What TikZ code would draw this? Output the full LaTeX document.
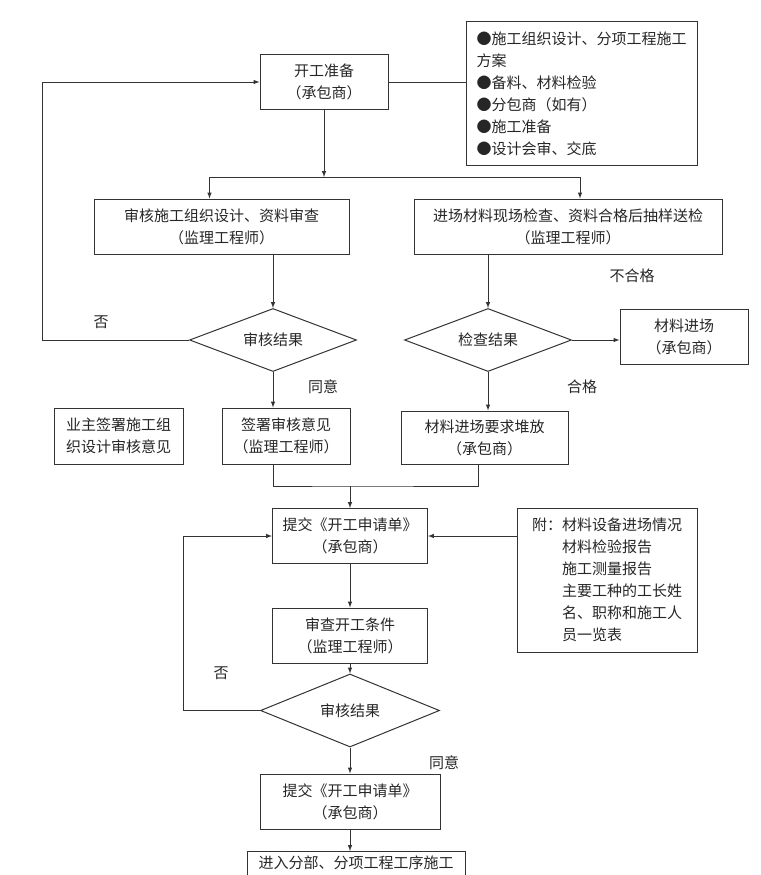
\documentclass[tikz,border=0pt]{standalone}
\usepackage{fontspec}
\setmainfont{Noto Sans CJK SC}
\usetikzlibrary{positioning,arrows,shapes.geometric,calc}

\begin{document}
\begin{tikzpicture}[x=1pt,y=-1pt,
   every node/.style={font=\fontsize{15pt}{22pt}\selectfont, text=black!85},
   box/.style={draw=black!80, line width=1pt, align=center, inner sep=0pt},
   check/.style={draw=black!80, line width=1pt, diamond, aspect=2.6, inner sep=0pt},
   line/.style={draw=black!80, line width=1pt}]
   \clip (0,0) rectangle (760,875);
   \node[box, minimum width=128, minimum height=54] (start) at (324,82) {开工准备\\（承包商）};
   \node[box, align=left, minimum width=231, minimum height=143] (prep) at (581.5,93.5)
      {●施工组织设计、分项工程施工\\方案\\●备料、材料检验\\●分包商（如有）\\●施工准备\\●设计会审、交底};
   \node[box, minimum width=255, minimum height=55] (review) at (221.5,226.5) {审核施工组织设计、资料审查\\（监理工程师）};
   \node[box, minimum width=308, minimum height=55] (check1) at (568,226.5) {进场材料现场检查、资料合格后抽样送检\\（监理工程师）};
   \node[check, minimum width=167, minimum height=63] (dec1) at (273,340) {审核结果};
   \node[check, minimum width=167, minimum height=63] (dec2) at (488,340) {检查结果};
   \node[box, minimum width=128, minimum height=55] (in1) at (684,336.5) {材料进场\\（承包商）};
   \node[box, minimum width=129, minimum height=56] (owner) at (118.5,436) {业主签署施工组\\织设计审核意见};
   \node[box, minimum width=128, minimum height=56] (sign) at (286,436) {签署审核意见\\（监理工程师）};
   \node[box, minimum width=167, minimum height=53] (stack) at (484.5,437.5) {材料进场要求堆放\\（承包商）};
   \node[box, minimum width=155, minimum height=55] (apply1) at (350,536) {提交《开工申请单》\\（承包商）};
   \node[box, align=left, minimum width=180, minimum height=144] (attach) at (607,580)
      {附：材料设备进场情况\\\hphantom{附：}材料检验报告\\\hphantom{附：}施工测量报告\\\hphantom{附：}主要工种的工长姓\\\hphantom{附：}名、职称和施工人\\\hphantom{附：}员一览表};
   \node[box, minimum width=155, minimum height=55] (cond) at (350,635.5) {审查开工条件\\（监理工程师）};
   \node[check, minimum width=179, minimum height=73] (dec3) at (350,710.5) {审核结果};
   \node[box, minimum width=180, minimum height=55] (apply2) at (350,801.5) {提交《开工申请单》\\（承包商）};
   \node[box, anchor=north, minimum width=218, minimum height=50] (final) at (356,851) {进入分部、分项工程工序施工\\\strut};
   \node (no1) at (101,322) {否};
   \node (yes1) at (323,387) {同意};
   \node (pass) at (582,387) {合格};
   \node (fail) at (632,276) {不合格};
   \node (no2) at (221,673) {否};
   \node (yes2) at (444,763) {同意};
   \coordinate (split) at (324,177);
   \coordinate (join) at (350,486);
   \coordinate (back1) at (42,0);
   \coordinate (back2) at (183,0);
   \draw[line] (start.east) -- (start.east -| prep.west);
   \draw[line,-latex] (start) -- (split);
   \draw[line] ([xshift=-12pt]review.north |- split) -- ([xshift=12pt]check1.north |- split);
   \draw[line,-latex] ([xshift=-12pt]review.north |- split) -- ([xshift=-12pt]review.north);
   \draw[line,-latex] ([xshift=12pt]check1.north |- split) -- ([xshift=12pt]check1.north);
   \draw[line,-latex] (review.south -| dec1.north) -- (dec1.north);
   \draw[line,-latex] (check1.south -| dec2.north) -- (dec2.north);
   \draw[line,-latex] (dec1.west) -- (dec1.west -| back1) |- (start.west);
   \draw[line,-latex] (dec2.east) -- (dec2.east -| in1.west);
   \draw[line,-latex] (dec1.south) -- (dec1.south |- sign.north);
   \draw[line,-latex] (dec2.south) -- (dec2.south |- stack.north);
   \draw[line] ([xshift=-13pt]sign.south) |- (join) -| ([xshift=-6pt]stack.south);
   \draw[line,-latex] (join) -- (join |- apply1.north);
   \draw[line,-latex] (attach.west |- apply1.east) -- (apply1.east);
   \draw[line,-latex] (apply1) -- (cond);
   \draw[line,-latex] (cond) -- (dec3);
   \draw[line,-latex] (dec3.west) -- (dec3.west -| back2) |- (apply1.west);
   \draw[line,-latex] (dec3) -- (apply2);
   \draw[line,-latex] (apply2.south) -- (apply2.south |- final.north);
\end{tikzpicture}
\end{document}
